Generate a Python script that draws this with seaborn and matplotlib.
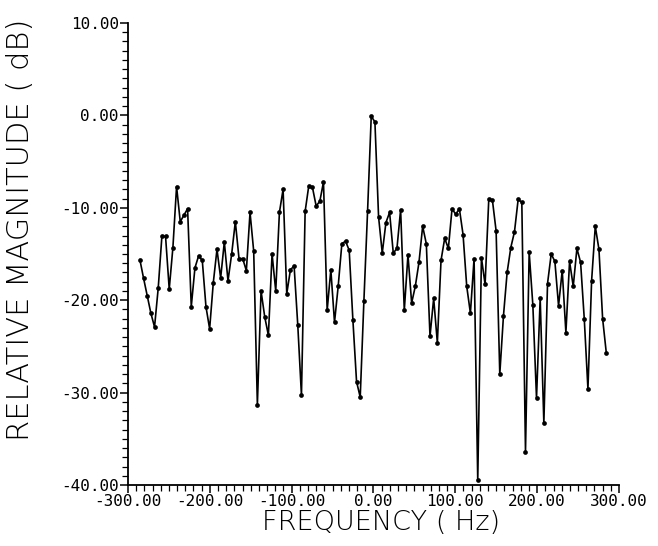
import numpy as np
import pandas as pd
import matplotlib
matplotlib.use("Agg")
import matplotlib.pyplot as plt
from matplotlib.ticker import MultipleLocator, FixedLocator
import seaborn as sns

FREQ_FIRST = -285.5
FREQ_LAST = 284.5
N_BINS = 128

MAG_DB = [
    -15.6, -17.6, -19.5, -21.4, -22.9, -18.7, -13.1, -13.1, -18.8, -14.3,
    -7.7, -11.5, -10.8, -10.1, -20.7, -16.5, -15.2, -15.7, -20.7, -23.1,
    -18.1, -14.5, -17.6, -13.7, -17.9, -15.0, -11.5, -15.5, -15.5, -16.8,
    -10.5, -14.7, -31.3, -19.0, -21.8, -23.8, -15.0, -19.0, -10.5, -8.0,
    -19.3, -16.7, -16.3, -22.7, -30.3, -10.4, -7.6, -7.8, -9.8, -9.3,
    -7.2, -21.1, -16.7, -22.4, -18.5, -13.9, -13.6, -14.6, -22.1, -28.8,
    -30.5, -20.1, -10.4, -0.1, -0.7, -11.0, -14.9, -11.6, -10.5, -14.9,
    -14.4, -10.2, -21.1, -15.1, -20.3, -18.5, -15.9, -12.0, -13.9, -23.9,
    -19.8, -24.6, -15.7, -13.3, -14.4, -10.1, -10.7, -10.1, -12.9, -18.5,
    -21.4, -15.5, -39.5, -15.4, -18.3, -9.1, -9.2, -12.5, -28.0, -21.7,
    -17.0, -14.3, -12.6, -9.1, -9.4, -36.4, -14.8, -20.5, -30.6, -19.8,
    -33.3, -18.2, -15.0, -15.8, -20.6, -16.8, -23.5, -15.8, -18.5, -14.4,
    -15.9, -22.0, -29.6, -17.9, -12.0, -14.5, -22.0, -25.7,
]

X_TICKS = [-300, -200, -100, 0, 100, 200, 300]
X_TICK_LABELS = ["-300.00", "-200.00", "-100.00", "0.00", "100.00", "200.00", "300.00"]
Y_TICKS = [-40, -30, -20, -10, 0, 10]
Y_TICK_LABELS = ["-40.00", "-30.00", "-20.00", "-10.00", "0.00", "10.00"]

freq = np.linspace(FREQ_FIRST, FREQ_LAST, N_BINS)
df = pd.DataFrame({"freq": freq, "mag": MAG_DB})

sns.set_style("ticks")
plt.rcParams["font.family"] = ["DejaVu Sans"]
plt.rcParams["text.color"] = "black"
plt.rcParams["axes.labelcolor"] = "black"
plt.rcParams["xtick.color"] = "black"
plt.rcParams["ytick.color"] = "black"

fig = plt.figure(figsize=(6.58, 5.46), dpi=100)
ax = fig.add_axes([0.1945, 0.1117, 0.7462, 0.8462])

sns.lineplot(data=df, x="freq", y="mag", ax=ax, color="black", linewidth=1.2,
             marker="o", markersize=3.4, markeredgewidth=0, estimator=None,
             sort=False)

ax.set_xlim(-300, 300)
ax.set_ylim(-40, 10)
for s in ["top", "right"]:
    ax.spines[s].set_visible(False)
for s in ["left", "bottom"]:
    ax.spines[s].set_linewidth(1.3)
    ax.spines[s].set_color("black")

ax.xaxis.set_major_locator(FixedLocator(X_TICKS))
ax.set_xticklabels(X_TICK_LABELS)
ax.xaxis.set_minor_locator(MultipleLocator(10))
ax.yaxis.set_major_locator(FixedLocator(Y_TICKS))
ax.set_yticklabels(Y_TICK_LABELS)
ax.yaxis.set_minor_locator(MultipleLocator(1))

ax.tick_params(axis="both", which="major", direction="out", length=6, width=1.1,
               color="black", labelcolor="black", labelsize=11.5, pad=0.5)
ax.tick_params(axis="both", which="minor", direction="out", length=4, width=0.9,
               color="black")
for lab in ax.get_xticklabels() + ax.get_yticklabels():
    lab.set_family("DejaVu Sans Mono")

ax.set_xlabel("FREQUENCY ( Hz)", fontsize=19.5, fontweight="light", color="black")
ax.set_ylabel("RELATIVE MAGNITUDE ( dB)", fontsize=22, fontweight="light", color="black")
ax.xaxis.set_label_coords(0.515, -0.055)
ax.yaxis.set_label_coords(-0.19, 0.552)
ax.grid(False)

fig.savefig("out.png", dpi=100, facecolor="white")
